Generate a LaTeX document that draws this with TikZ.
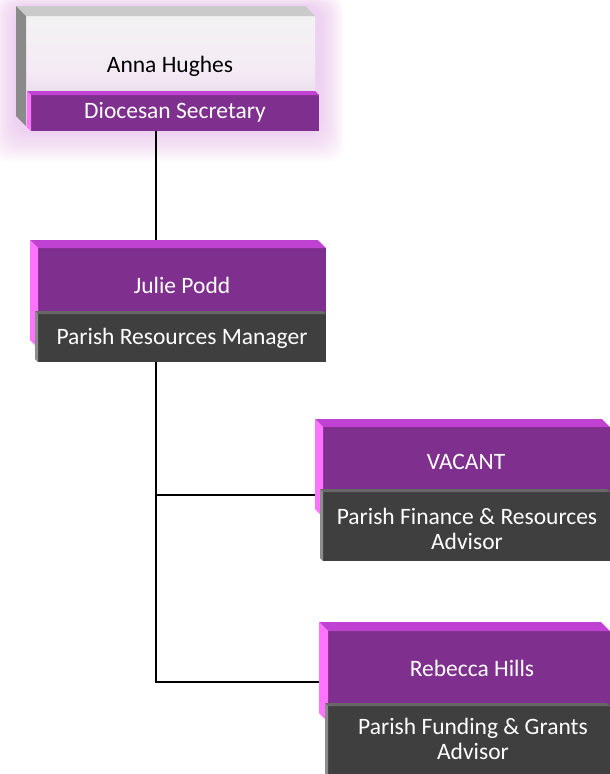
\documentclass[tikz,border=0pt]{standalone}
\usepackage{fontspec}
\setmainfont{Carlito}
\usetikzlibrary{calc}
\pgfdeclarelayer{paper}
\pgfdeclarelayer{background}
\pgfdeclarelayer{glow}
\pgfsetlayers{paper,glow,background,main}
\definecolor{purp}{HTML}{7F2F8D}
\definecolor{purptop}{HTML}{C042D2}
\definecolor{purpleft}{HTML}{FF73FF}
\definecolor{darkbar}{HTML}{3F3F3F}
\definecolor{darktop}{HTML}{686868}
\definecolor{darkleft}{HTML}{8C8C8C}
\definecolor{graytop}{HTML}{CACACA}
\definecolor{grayleft}{HTML}{8A8A8A}
\definecolor{glowc}{HTML}{E9A6F2}
\definecolor{lavender}{HTML}{DCCBE1}
\tikzset{
  face/.style={anchor=north west, inner sep=0pt, outer sep=0pt, align=center},
  txt/.style={font=\fontsize{23.5}{25.5}\selectfont, align=center, inner sep=0pt},
  link/.style={draw=black, line width=2pt},
}
% #1 node, #2 depth, #3 top colour, #4 left colour
\newcommand\bevelit[4]{%
  \fill[#3] ($(#1.north west)+(-#2,-#2)$) -- ($(#1.north east)+(-#2,-#2)$) -- (#1.north east) -- (#1.north west) -- cycle;
  \fill[#4] ($(#1.north west)+(-#2,-#2)$) -- (#1.north west) -- (#1.south west) -- ($(#1.south west)+(-#2,-#2)$) -- cycle;
}
\begin{document}
\begin{tikzpicture}[x=1pt,y=-1pt]
\useasboundingbox (0,0) rectangle (610,774);
\begin{pgfonlayer}{paper}
  \fill[white] (0,0) rectangle (610,774);
\end{pgfonlayer}
% ---- Anna Hughes
\node[face, minimum width=289pt, minimum height=110pt, top color=white!95!black, bottom color=lavender, middle color=white!92!violet] (annaface) at (26,16) {};
\bevelit{annaface}{10}{graytop}{grayleft}
\node[face, fill=purp, minimum width=288pt, minimum height=36pt] (annabar) at (31,95) {};
\bevelit{annabar}{4}{purptop}{purpleft}
\node[txt, text=black] (annaname) at (170,66) {Anna Hughes};
\node[txt, text=white] (annarole) at (175,112) {Diocesan Secretary};
\begin{pgfonlayer}{glow}
  \foreach \i in {1,...,18} {
    \fill[glowc, opacity=0.03, rounded corners=16pt] ($(annaface.north west)+(-10-\i*1.4,-10-\i*0.6)$) rectangle ($(annabar.south east)+(\i*1.4,\i*1.7)$);
  }
\end{pgfonlayer}
% ---- Julie Podd
\node[face, fill=purp, minimum width=288pt, minimum height=100pt] (julieface) at (38,248) {};
\bevelit{julieface}{8}{purptop}{purpleft}
\node[face, fill=darkbar, minimum width=288pt, minimum height=48pt] (juliebar) at (38,314) {};
\bevelit{juliebar}{3}{darktop}{darkleft}
\node[txt, text=white] (juliename) at (182,285) {Julie Podd};
\node[txt, text=white] (julierole) at (182,338) {Parish Resources Manager};
% ---- VACANT
\node[face, fill=purp, minimum width=287pt, minimum height=90pt] (vacface) at (323,427) {};
\bevelit{vacface}{8}{purptop}{purpleft}
\node[face, fill=darkbar, minimum width=287pt, minimum height=69pt] (vacbar) at (323,492) {};
\bevelit{vacbar}{3}{darktop}{darkleft}
\node[txt, text=white] (vacname) at (466,462) {VACANT};
\node[txt, text=white] (vacrole) at (467,529) {Parish Finance \& Resources\\Advisor};
% ---- Rebecca Hills
\node[face, fill=purp, minimum width=282pt, minimum height=91pt] (rebface) at (328,631) {};
\bevelit{rebface}{9}{purptop}{purpleft}
\node[face, fill=darkbar, minimum width=282pt, minimum height=74pt] (rebbar) at (328,706) {};
\bevelit{rebbar}{3}{darktop}{darkleft}
\node[txt, text=white] (rebname) at (472,668) {Rebecca Hills};
\node[txt, text=white] (rebrole) at (473,739) {Parish Funding \& Grants\\Advisor};
% ---- connectors
\coordinate (tx) at (156,0);
\coordinate (j1) at (156,495);
\coordinate (j2) at (156,682);
\begin{pgfonlayer}{background}
  \draw[link] (tx |- annabar.south) -- (tx |- julieface.north);
  \draw[link] (tx |- juliebar.south) -- (j2) -- (j2 -| rebface.west);
  \draw[link] (j1) -- (j1 -| vacface.west);
\end{pgfonlayer}
\end{tikzpicture}
\end{document}
